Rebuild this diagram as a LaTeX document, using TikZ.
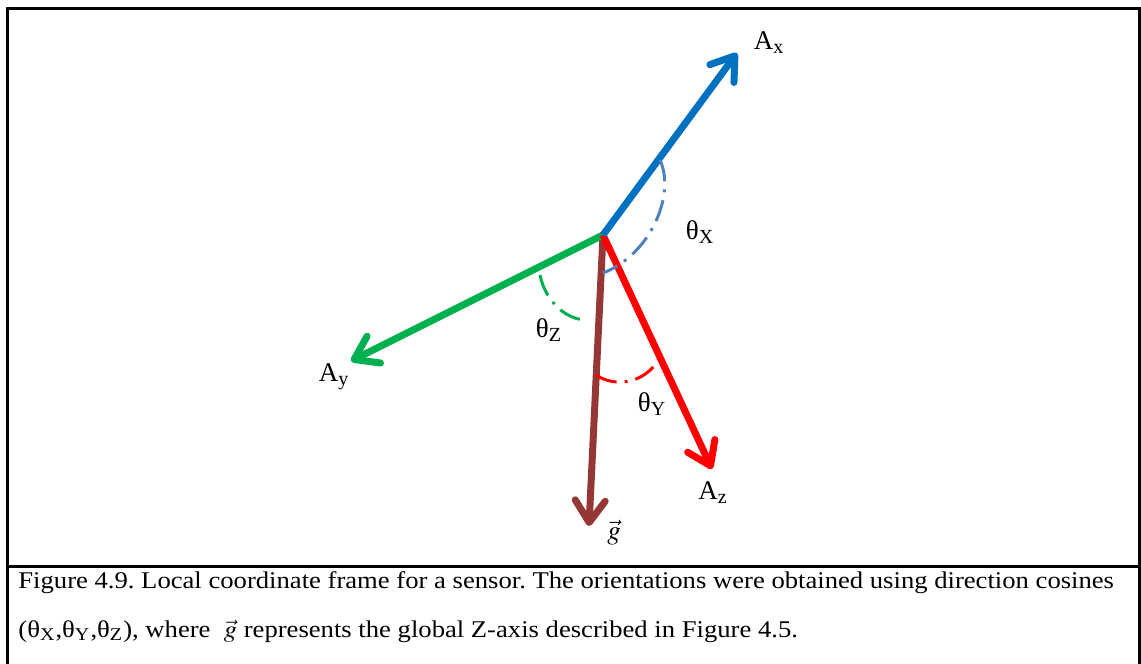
\documentclass[tikz,border=0pt]{standalone}
\usepackage{mathptmx}
\usepackage{fontspec}
\setmainfont{Liberation Serif}
\usetikzlibrary{arrows.meta,positioning}

\definecolor{axblue}{HTML}{0070C0}
\definecolor{aygreen}{HTML}{00B050}
\definecolor{azred}{HTML}{FF0000}
\definecolor{gbrown}{HTML}{953735}
\definecolor{arcblue}{HTML}{4F81BD}

\frenchspacing

\begin{document}
\begin{tikzpicture}[x=0.5pt, y=-0.5pt,
    axis/.style={line width=3.5pt, -{Straight Barb[length=11pt,width=15pt,round]}},
    anglearc/.style={line width=1.5pt, dash pattern=on 11pt off 4pt on 1.5pt off 4pt},
    lbl/.style={font=\fontsize{13.5}{16}\selectfont, inner sep=0pt},
    captext/.style={font=\fontsize{12}{14}\selectfont, anchor=base west, inner sep=0pt}
]
    \useasboundingbox (0,0) rectangle (1141,664);

    % Frame
    \draw[line width=1.5pt] (7,664) -- (7,8) -- (1139,8) -- (1139,664);
    \draw[line width=1.5pt] (7,566) -- (1139,566);

    % Origin and tips
    \coordinate (O) at (603,235);
    \coordinate (tipx) at (737,53);
    \coordinate (tipy) at (351,361);
    \coordinate (tipz) at (712,469);
    \coordinate (tipg) at (589,526);

    % Axes
    \draw[axis, gbrown] (O) -- (tipg);
    \draw[axis, aygreen] (O) -- (tipy);
    \draw[axis, azred] (O) -- (tipz);
    \draw[axis, axblue] (O) -- (tipx);

    % Angles
    \draw[anglearc, arcblue] (660,160) .. controls (676,195) and (650,255) .. (603,273);
    \draw[anglearc, aygreen] (540,275) .. controls (545,300) and (565,320) .. (587,320);
    \draw[anglearc, azred] (596,375) .. controls (615,388) and (645,383) .. (658,360);

    % Labels
    \node[lbl] (ax) at (769,43) {A\textsubscript{x}};
    \node[lbl] (ay) at (334,377) {A\textsubscript{y}};
    \node[lbl] (az) at (713,493) {A\textsubscript{z}};
    \node[lbl] (g) at (614,533) {$\vec{g}$};
    \node[lbl] (thx) at (700,232) {θ\textsubscript{X}};
    \node[lbl] (thz) at (549,330) {θ\textsubscript{Z}};
    \node[lbl] (thy) at (652,404) {θ\textsubscript{Y}};

    % Caption
    \node[captext] (cap1) at (18,588) {\scalebox{1.11}[1]{Figure 4.9. Local coordinate frame for a sensor. The orientations were obtained using direction cosines}};
    \node[captext] (cap2) at (18,637) {\scalebox{1.11}[1]{(θ\textsubscript{X},θ\textsubscript{Y},θ\textsubscript{Z}), where\ \ $\vec{g}$ represents the global Z-axis described in Figure 4.5.}};
\end{tikzpicture}
\end{document}
